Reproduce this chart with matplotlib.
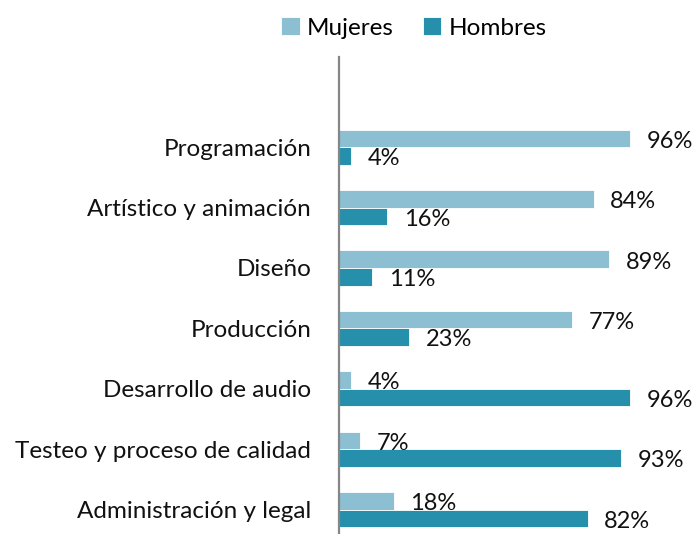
import matplotlib
matplotlib.use('Agg')
import matplotlib.pyplot as plt
import numpy as np

LIGHT = "#8bbfd1"
DARK = "#268fab"
AXIS_GREY = "#868686"

categories = ['Programación', 'Artístico y animación', 'Diseño', 'Producción',
              'Desarrollo de audio', 'Testeo y proceso de calidad',
              'Administración y legal']
mujeres = [96, 84, 89, 77, 4, 7, 18]
hombres = [4, 16, 11, 23, 96, 93, 82]

plt.rcParams.update({'font.family': 'Lato', 'font.size': 17.5})

fig = plt.figure(figsize=(6.93, 5.34), dpi=100)
ax = fig.add_axes([339 / 693, 0.0, 1 - 339 / 693, 1 - 57 / 534])

y = np.arange(len(categories))
h = 0.29
off = 0.145

b1 = ax.barh(y - off, mujeres, h, color=LIGHT, edgecolor='white', linewidth=0.6,
             label='Mujeres')
b2 = ax.barh(y + off, hombres, h, color=DARK, edgecolor='white', linewidth=0.6,
             label='Hombres')

for bars, vals in [(b1, mujeres), (b2, hombres)]:
    for bar, v in zip(bars, vals):
        ax.annotate(f'{v}%', xy=(v, bar.get_y() + bar.get_height() / 2),
                    xytext=(12, -2), textcoords='offset points',
                    ha='left', va='center', fontsize=17, color='#111111')

ax.set_xlim(0, 116.8)
ax.set_ylim(6.4, -1.49)
ax.set_yticks(y)
ax.set_yticklabels(categories, color='#111111')
ax.tick_params(axis='y', length=0, pad=20)
ax.set_xticks([])
for s in ['top', 'right', 'bottom']:
    ax.spines[s].set_visible(False)
ax.spines['left'].set_color(AXIS_GREY)
ax.spines['left'].set_linewidth(1.6)

fig.legend(handles=[b1, b2], loc='center', bbox_to_anchor=(414 / 693, 1 - 28 / 534),
           ncol=2, frameon=False, handlelength=0.75, handleheight=0.75,
           handletextpad=0.3, columnspacing=1.2, fontsize=17.5)

fig.savefig('out.png', dpi=100)
